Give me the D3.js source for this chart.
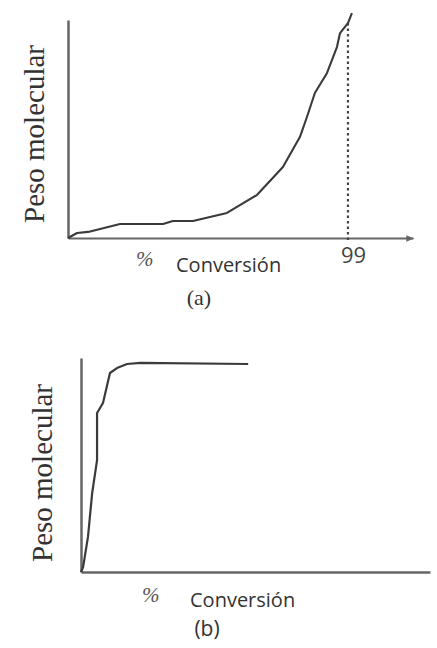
<!DOCTYPE html>
<html>
<head>
<meta charset="utf-8">
<script src="https://cdn.jsdelivr.net/npm/d3@7"></script>
<style>
  body { margin: 0; background: #fff; }
</style>
</head>
<body>
<div id="chart"></div>
<script>
////////
// Data (conversion %, molecular weight in arbitrary units)
let convA = [0, 3.2, 7.1, 18.4, 33.6, 37.1, 44.2, 56.2, 66.8, 76.0, 82.0, 84.5, 87.3, 91.6, 95.1, 96.2, 99, 100.4];
let pesoA = [0, 2.3, 2.8, 6.4, 6.4, 7.8, 7.8, 11.5, 19.7, 32.6, 46.3, 55.5, 66.5, 75.7, 87.6, 94.0, 98.6, 103.2];

let convB = [0, 0.6, 2.0, 3.2, 4.6, 4.6, 6.3, 8.3, 10.3, 13.2, 16.9, 47.9];
let pesoB = [0, 2.3, 16.4, 36.9, 52.3, 74.3, 79.0, 93.0, 95.3, 97.2, 97.7, 97.2];

let ticksA = [99];
let yLabel = "Peso molecular";
let xLabel = "Conversión";
let panelLabels = ["(a)", "(b)"];

let svg_width = 437;
let svg_height = 648;

let svg = d3.select("#chart")
  .append("svg")
  .attr("width", svg_width)
  .attr("height", svg_height);

let axisColor = "#666";
let lineColor = "#3a3a3a";
let textColor = "#333";

svg.append("defs").append("marker")
  .attr("id", "arrow")
  .attr("viewBox", "0 0 10 10")
  .attr("refX", 9).attr("refY", 5)
  .attr("markerWidth", 4).attr("markerHeight", 4)
  .attr("orient", "auto")
  .append("path")
  .attr("d", "M0,1 L10,5 L0,9 Z")
  .attr("fill", axisColor);

let line = d3.line().curve(d3.curveLinear);

////////
// Panel (a)
let xA = d3.scaleLinear().domain([0, 122]).range([68, 413]);
let yA = d3.scaleLinear().domain([0, 100]).range([238, 20]);

let gA = svg.append("g");

gA.append("g")
  .attr("transform", `translate(0,${yA(0)})`)
  .call(d3.axisBottom(xA).tickValues(ticksA).tickSize(0).tickSizeOuter(0).tickPadding(9))
  .call(g => g.select(".domain").attr("stroke", axisColor).attr("stroke-width", 2).attr("marker-end", "url(#arrow)"))
  .call(g => g.selectAll("text")
    .attr("font-family", "Open Sans, sans-serif")
    .attr("font-size", 22)
    .attr("fill", "#444")
    .attr("dx", 5));

gA.append("g")
  .attr("transform", `translate(${xA(0)},0)`)
  .call(d3.axisLeft(yA).tickValues([]).tickSizeOuter(0))
  .call(g => g.select(".domain").attr("stroke", axisColor).attr("stroke-width", 2.5));

// dashed line at 99 %
gA.append("line")
  .attr("x1", xA(99)).attr("x2", xA(99))
  .attr("y1", yA(98.6)).attr("y2", yA(-2))
  .attr("stroke", "#444")
  .attr("stroke-width", 2.2)
  .attr("stroke-dasharray", "2.5,3");

gA.append("path")
  .datum(d3.zip(convA, pesoA))
  .attr("d", line.x(d => xA(d[0])).y(d => yA(d[1])))
  .attr("fill", "none")
  .attr("stroke", lineColor)
  .attr("stroke-width", 2.1)
  .attr("stroke-linejoin", "round");

gA.append("text")
  .attr("transform", "translate(44,134) rotate(-90)")
  .attr("text-anchor", "middle")
  .attr("font-family", "Liberation Serif, serif")
  .attr("font-size", 29)
  .attr("fill", textColor)
  .text(yLabel);

gA.append("text")
  .attr("x", 136).attr("y", 266)
  .attr("font-family", "Liberation Serif, serif")
  .attr("font-style", "italic")
  .attr("font-size", 21)
  .attr("fill", "#555")
  .text("%");

gA.append("text")
  .attr("x", 176).attr("y", 272)
  .attr("font-family", "Open Sans, sans-serif")
  .attr("font-size", 20)
  .attr("fill", textColor)
  .text(xLabel);

gA.append("text")
  .attr("x", 199).attr("y", 305)
  .attr("text-anchor", "middle")
  .attr("font-family", "Liberation Serif, serif")
  .attr("font-size", 22)
  .attr("fill", textColor)
  .text(panelLabels[0]);

////////
// Panel (b)
let xB = d3.scaleLinear().domain([0, 100]).range([81, 430]);
let yB = d3.scaleLinear().domain([0, 100]).range([572, 358]);

let gB = svg.append("g");

gB.append("g")
  .attr("transform", `translate(0,${yB(0)})`)
  .call(d3.axisBottom(xB).tickValues([]).tickSizeOuter(0))
  .call(g => g.select(".domain").attr("stroke", axisColor).attr("stroke-width", 2.5));

gB.append("g")
  .attr("transform", `translate(${xB(0)},0)`)
  .call(d3.axisLeft(yB).tickValues([]).tickSizeOuter(0))
  .call(g => g.select(".domain").attr("stroke", axisColor).attr("stroke-width", 2.5));

gB.append("path")
  .datum(d3.zip(convB, pesoB))
  .attr("d", line.x(d => xB(d[0])).y(d => yB(d[1])))
  .attr("fill", "none")
  .attr("stroke", lineColor)
  .attr("stroke-width", 2.2)
  .attr("stroke-linejoin", "round");

gB.append("text")
  .attr("transform", "translate(52,473) rotate(-90)")
  .attr("text-anchor", "middle")
  .attr("font-family", "Liberation Serif, serif")
  .attr("font-size", 29)
  .attr("fill", textColor)
  .text(yLabel);

gB.append("text")
  .attr("x", 142).attr("y", 602)
  .attr("font-family", "Liberation Serif, serif")
  .attr("font-style", "italic")
  .attr("font-size", 21)
  .attr("fill", "#555")
  .text("%");

gB.append("text")
  .attr("x", 190).attr("y", 607)
  .attr("font-family", "Open Sans, sans-serif")
  .attr("font-size", 20)
  .attr("fill", textColor)
  .text(xLabel);

gB.append("text")
  .attr("x", 207).attr("y", 636)
  .attr("text-anchor", "middle")
  .attr("font-family", "Open Sans, sans-serif")
  .attr("font-size", 21)
  .attr("fill", textColor)
  .text(panelLabels[1]);
</script>
</body>
</html>
